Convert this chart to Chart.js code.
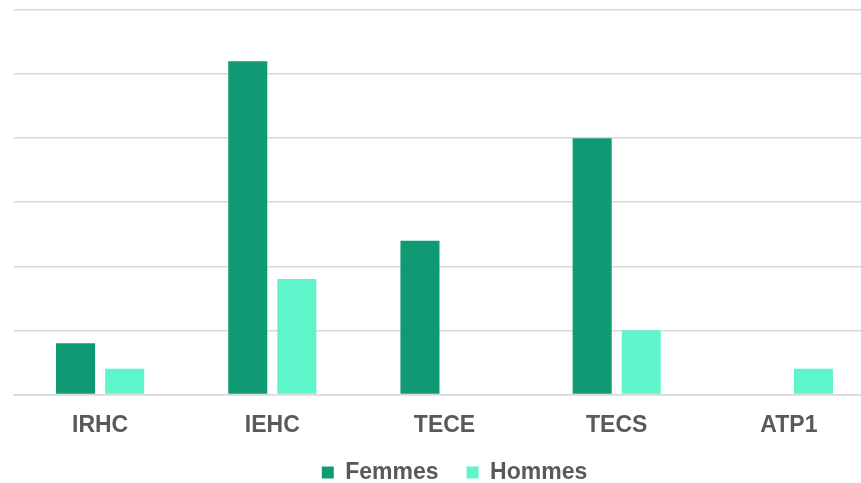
<!DOCTYPE html>
<html>
<head>
<meta charset="utf-8">
<script src="https://cdn.jsdelivr.net/npm/chart.js@4/dist/chart.umd.min.js"></script>
<style>
  html, body { margin: 0; padding: 0; background: #fff; overflow: hidden; }
  #wrap { width: 875px; height: 483px; position: relative; }
</style>
</head>
<body>
<div id="wrap"><canvas id="myChart"></canvas></div>
<script>
const categories = ["IRHC", "IEHC", "TECE", "TECS", "ATP1"]
const femmes = [4, 26, 12, 20, null]
const hommes = [2, 9, null, 5, 2]

// keep the legend box short, then drop its row down near the bottom
const legendSpacer = {
    id: "legendSpacer",
    afterInit(chart) {
        const fit = chart.legend.fit
        chart.legend.fit = function () {
            fit.call(this)
            this.height = 27
        }
    },
    afterLayout(chart) {
        const lg = chart.legend
        lg.top = chart.height - 50
        lg.bottom = chart.height
        lg.height = lg.bottom - lg.top
        lg.left += 10
        lg.right += 10
    }
}

const ctx = document.getElementById("myChart").getContext("2d")
new Chart(ctx, {
    type: "bar",
    data: {
        labels: categories,
        datasets: [{
            label: "Femmes",
            data: femmes,
            backgroundColor: "#109A74",
            barPercentage: 0.796,
            categoryPercentage: 0.57
        }, {
            label: "Hommes",
            data: hommes,
            backgroundColor: "#5FF5CA",
            barPercentage: 0.796,
            categoryPercentage: 0.57
        }]
    },
    plugins: [legendSpacer],
    options: {
        responsive: true,
        maintainAspectRatio: false,
        animation: false,
        layout: { padding: { left: 14, top: 10, right: 0, bottom: 0 } },
        scales: {
            x: {
                grid: { display: false, drawTicks: false },
                border: { display: true, color: "#d9d9d9", width: 1.5 },
                ticks: {
                    padding: 17,
                    color: "#595959",
                    font: { family: "Liberation Sans, Arial, sans-serif", size: 23, weight: "bold" }
                }
            },
            y: {
                min: 0,
                max: 30,
                border: { display: false },
                grid: { color: "#d9d9d9", lineWidth: 1.5, drawTicks: false },
                ticks: { display: false, stepSize: 5 }
            }
        },
        plugins: {
            legend: {
                position: "bottom",
                labels: {
                    boxWidth: 12,
                    boxHeight: 12,
                    padding: 28,
                    color: "#595959",
                    font: { family: "Liberation Sans, Arial, sans-serif", size: 23, weight: "bold" }
                }
            },
            tooltip: { enabled: false }
        }
    }
})
</script>
</body>
</html>
